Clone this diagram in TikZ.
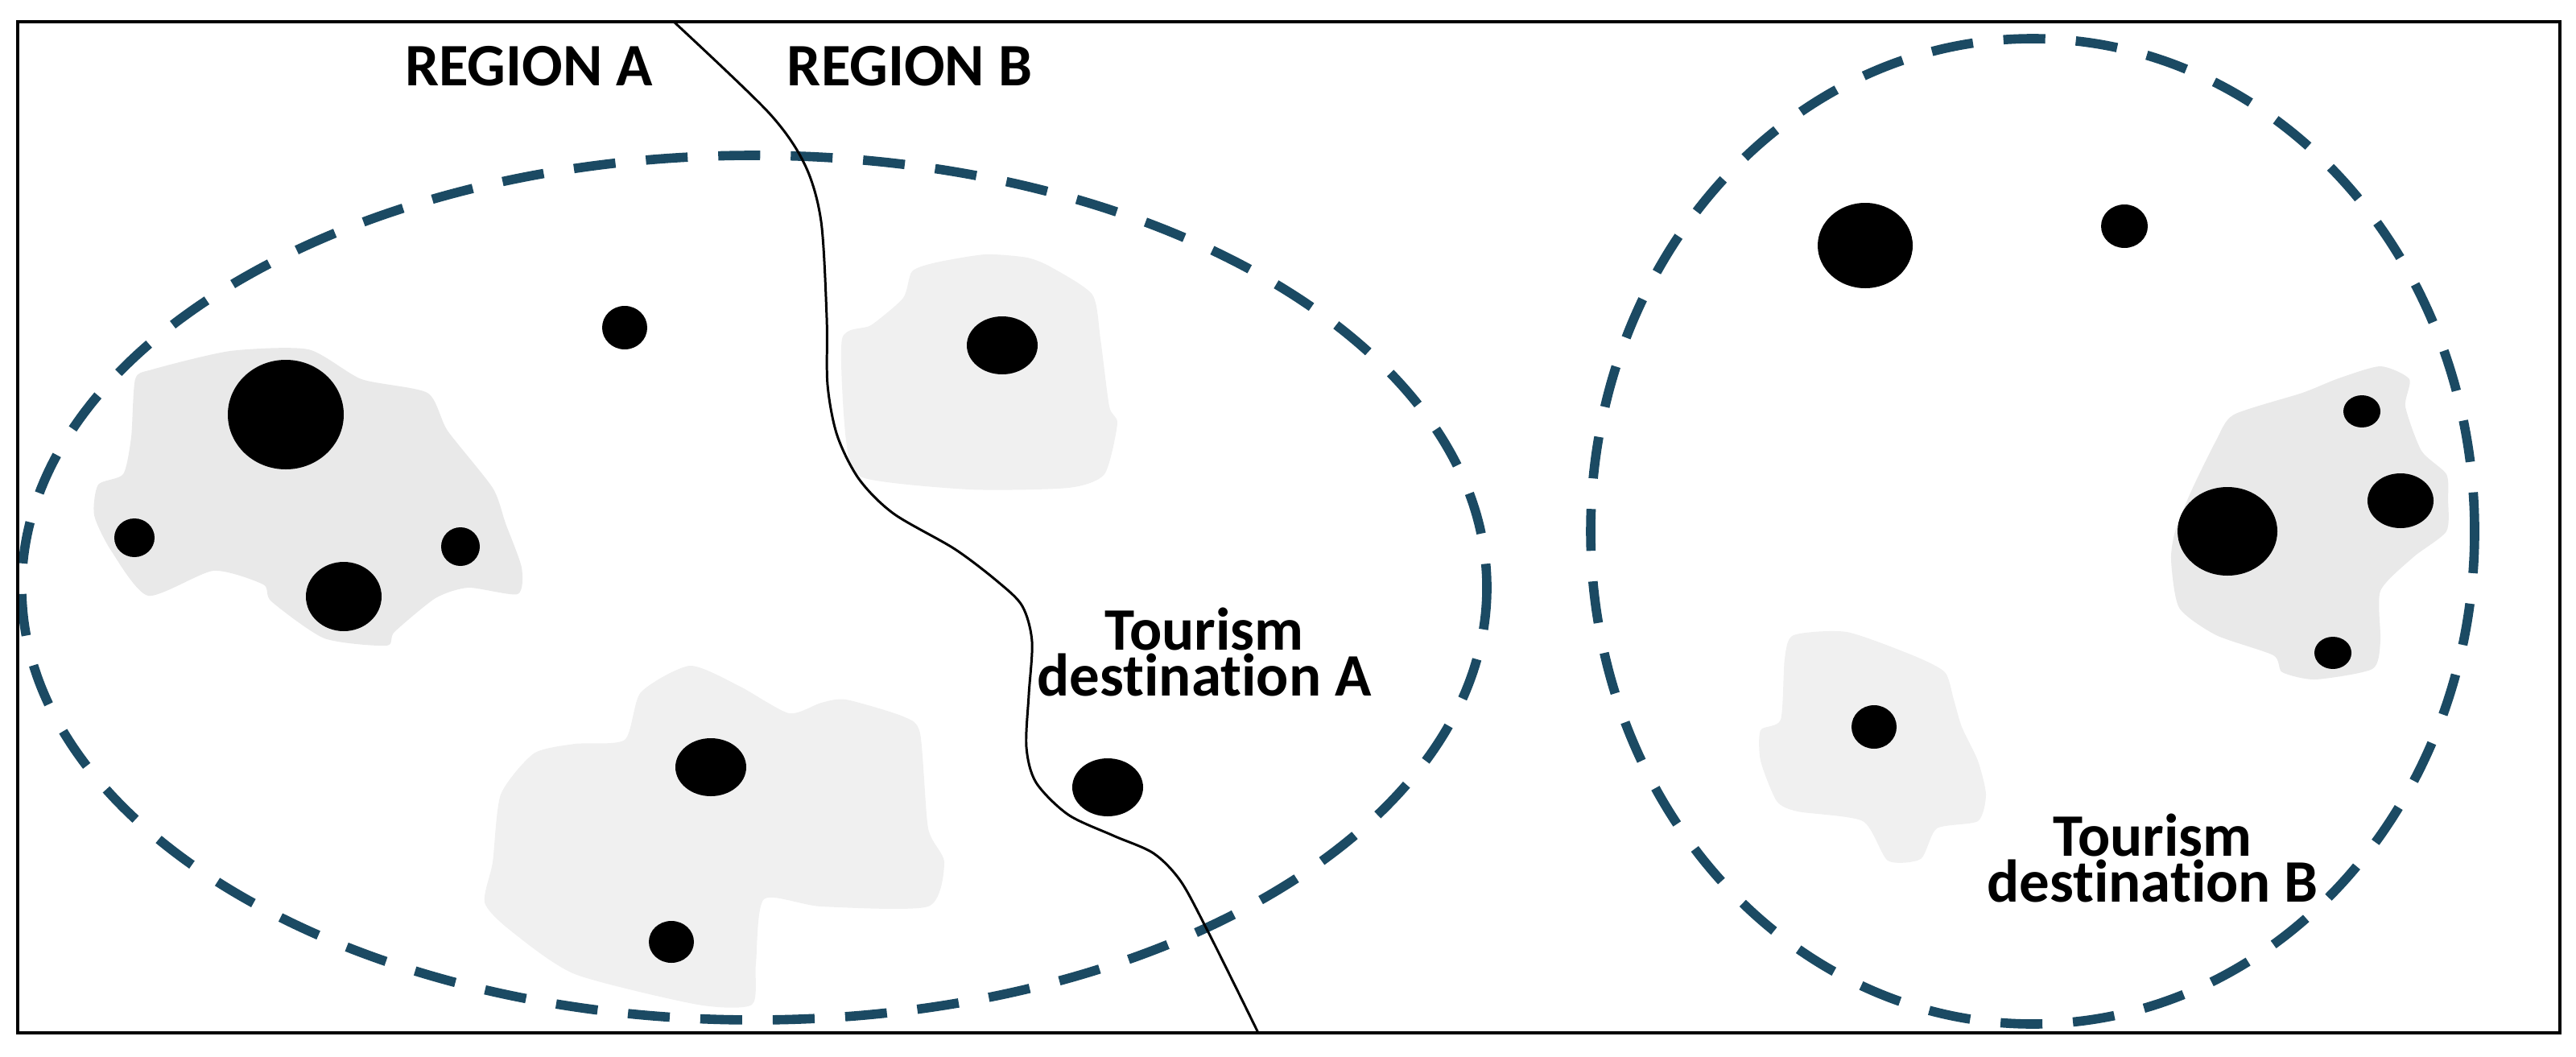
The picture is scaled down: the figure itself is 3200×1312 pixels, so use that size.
\documentclass[tikz,border=0pt]{standalone}
\usepackage{fontspec}
\setmainfont[Ligatures=NoCommon]{Carlito}
\definecolor{dashteal}{HTML}{1B4A63}
\definecolor{blobA}{HTML}{E9E9E9}
\definecolor{blobB}{HTML}{F0F0F0}
\tikzset{
  zone/.style={draw=dashteal, line width=3.3pt, dash pattern=on 0.52cm off 0.38cm},
  blob/.style={fill=#1, draw=none},
  dot/.style={fill=black, draw=none},
  lbl/.style={font=\bfseries\fontsize{21.3pt}{15pt}\selectfont, inner sep=0pt, align=center},
  border/.style={draw=black, line width=0.85pt}
}
\begin{document}
\begin{tikzpicture}[x=0.01cm, y=-0.01cm]
\useasboundingbox (0,0) rectangle (3200,1312);
% blobs
\fill[blob=blobA] plot[smooth cycle, tension=0.4] coordinates {
 (286,436) (383,434) (449,471) (531,488) (556,535) (612,606) (628,650) (648,705)
 (643,738) (582,730) (541,743) (490,785) (480,802) (403,793) (337,747) (327,726)
 (265,709) (184,740) (138,684) (117,640) (122,602) (153,589) (163,543) (168,471) (189,459)};
\fill[blob=blobB] plot[smooth cycle, tension=0.4] coordinates {
 (1163,326) (1224,316) (1276,320) (1306,332) (1357,366) (1367,421) (1378,505) (1388,526)
 (1372,589) (1327,606) (1204,608) (1071,593) (1051,547) (1046,421) (1082,404) (1122,370) (1133,337)};
\fill[blob=blobB] plot[smooth cycle, tension=0.4] coordinates {
 (857,827) (918,852) (980,886) (1020,873) (1051,869) (1122,890) (1143,911) (1153,1029)
 (1173,1071) (1153,1126) (1020,1126) (949,1117) (939,1197) (934,1248) (867,1248)
 (714,1210) (633,1155) (602,1121) (612,1071) (622,987) (663,936) (714,924) (776,919) (796,860)};
\fill[blob=blobA] plot[smooth cycle, tension=0.4] coordinates {
 (2957,455) (2993,471) (2988,505) (3008,560) (3039,589) (3041,620) (3039,660) (2998,692)
 (2957,734) (2957,797) (2947,831) (2876,844) (2835,835) (2824,814) (2753,789) (2707,755)
 (2697,696) (2702,660) (2722,610) (2753,547) (2775,515) (2860,488) (2905,470)};
\fill[blob=blobB] plot[smooth cycle, tension=0.4] coordinates {
 (2228,789) (2294,785) (2376,814) (2416,835) (2427,869) (2437,903) (2457,945) (2467,987)
 (2457,1020) (2406,1029) (2386,1067) (2345,1069) (2314,1020) (2233,1008) (2207,995)
 (2187,945) (2187,907) (2212,894) (2217,818)};
% dots
\fill[dot] (355,515) ellipse [x radius=72, y radius=68];
\fill[dot] (167,668) ellipse [x radius=25, y radius=24];
\fill[dot] (572,679) ellipse [x radius=24, y radius=24];
\fill[dot] (427,741) ellipse [x radius=47, y radius=43];
\fill[dot] (776,407) ellipse [x radius=28, y radius=27];
\fill[dot] (1245,429) ellipse [x radius=44, y radius=36];
\fill[dot] (883,953) ellipse [x radius=44, y radius=36];
\fill[dot] (834,1170) ellipse [x radius=28, y radius=26];
\fill[dot] (1376,978) ellipse [x radius=44, y radius=36];
\fill[dot] (2317,305) ellipse [x radius=59, y radius=53];
\fill[dot] (2639,281) ellipse [x radius=29, y radius=27];
\fill[dot] (2934,511) ellipse [x radius=23, y radius=20];
\fill[dot] (2767,660) ellipse [x radius=62, y radius=55];
\fill[dot] (2982,622) ellipse [x radius=41, y radius=34];
\fill[dot] (2898,811) ellipse [x radius=23, y radius=20];
\fill[dot] (2328,903) ellipse [x radius=28, y radius=27];
% destination zones
\draw[zone] (937,730) ellipse [x radius=910, y radius=537];
\draw[zone] (2525,660) ellipse [x radius=549, y radius=612];
% region boundary
\coordinate (btop) at (837,27);
\coordinate (bbot) at (1563,1283);
\draw[line width=0.85pt] plot[smooth, tension=0.5] coordinates {
 (btop) (955,140) (1000,205) (1020,275) (1027,395) (1028,478)
 (1040,541) (1067,595) (1110,638) (1186,682) (1240,723) (1270,753) (1282,797)
 (1278,863) (1275,928) (1287,972) (1327,1012) (1383,1038) (1433,1060) (1467,1095)
 (1500,1156) (1533,1222) (bbot)};
% frame
\draw[border, line width=1.1pt] (22,27) rectangle (3180,1283);
% labels
\node[lbl, anchor=base] (rega) at (657,106) {REGION A};
\node[lbl, anchor=base] (regb) at (1130,106) {REGION B};
\node[lbl, anchor=center] (desta) at (1496,810) {Tourism\\destination A};
\node[lbl, anchor=center] (destb) at (2674,1066) {Tourism\\destination B};
\end{tikzpicture}
\end{document}
